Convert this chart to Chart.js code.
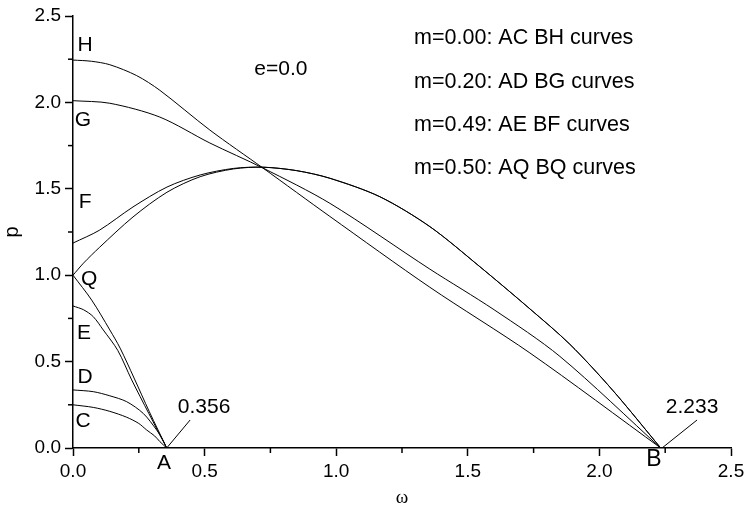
<!DOCTYPE html>
<html>
<head>
<meta charset="utf-8">
<script src="https://cdn.jsdelivr.net/npm/chart.js@4.4.1/dist/chart.umd.min.js"></script>
<style>
  html, body { margin: 0; padding: 0; background: #fff; }
  #wrap { width: 745px; height: 507px; }
</style>
</head>
<body>
<div id="wrap"><canvas id="chart"></canvas></div>
<script>
// ---- curve data (omega, p) ----
const acX = [0, 0.077, 0.14, 0.204, 0.25, 0.28, 0.31, 0.33, 0.356];
const acY = [0.25, 0.235, 0.212, 0.178, 0.142, 0.104, 0.07, 0.037, 0];

const adX = [0, 0.077, 0.14, 0.204, 0.267, 0.318, 0.34, 0.356];
const adY = [0.336, 0.326, 0.302, 0.268, 0.2, 0.104, 0.05, 0];

const aeX = [0, 0.04, 0.077, 0.115, 0.17, 0.223, 0.288, 0.356];
const aeY = [0.822, 0.8, 0.76, 0.683, 0.565, 0.394, 0.2, 0];

const aqX = [0, 0.071, 0.14, 0.179, 0.232, 0.29, 0.356];
const aqY = [1.0, 0.856, 0.683, 0.578, 0.405, 0.21, 0];

const bhX = [0, 0.07, 0.14, 0.242, 0.33, 0.52, 0.722, 0.976, 1.356, 1.736, 2.233];
const bhY = [2.245, 2.238, 2.218, 2.155, 2.07, 1.84, 1.62, 1.34, 0.93, 0.55, 0];

const bgX = [0, 0.14, 0.33, 0.52, 0.722, 0.976, 1.356, 1.6, 1.85, 2.233];
const bgY = [2.01, 1.995, 1.915, 1.765, 1.62, 1.416, 1.035, 0.8, 0.53, 0];

const bfX = [0, 0.1, 0.228, 0.357, 0.483, 0.61, 0.722, 0.85, 0.976, 1.166, 1.356, 1.546, 1.736, 1.888, 2.05, 2.233];
const bfY = [1.186, 1.26, 1.395, 1.51, 1.58, 1.618, 1.625, 1.605, 1.561, 1.454, 1.281, 1.049, 0.805, 0.6, 0.335, 0];

const bqX = [0, 0.04, 0.1, 0.228, 0.357, 0.483, 0.61, 0.722, 0.85, 0.976, 1.166, 1.356, 1.546, 1.736, 1.888, 2.05, 2.233];
const bqY = [1.0, 1.07, 1.16, 1.337, 1.48, 1.57, 1.615, 1.625, 1.605, 1.561, 1.454, 1.281, 1.049, 0.805, 0.6, 0.335, 0];

// leader lines for the 0.356 / 2.233 labels
const leadAX = [0.356, 0.445];
const leadAY = [0, 0.162];
const leadBX = [2.238, 2.371];
const leadBY = [0, 0.162];

// ticks
const majorTicks = [0, 0.5, 1.0, 1.5, 2.0, 2.5];
const minorTicks = [0.25, 0.75, 1.25, 1.75, 2.25];

const legendLines = [
  "m=0.00: AC BH curves",
  "m=0.20: AD BG curves",
  "m=0.49: AE BF curves",
  "m=0.50: AQ BQ curves"
];

function pts(xs, ys) {
  return xs.map((x, i) => ({ x: x, y: ys[i] }));
}

const curves = [
  pts(acX, acY), pts(adX, adY), pts(aeX, aeY), pts(aqX, aqY),
  pts(bhX, bhY), pts(bgX, bgY), pts(bfX, bfY), pts(bqX, bqY)
];

const datasets = curves.map(d => ({
  data: d,
  showLine: true,
  borderColor: "#000",
  borderWidth: 1,
  pointRadius: 0,
  tension: 0.3
}));
[pts(leadAX, leadAY), pts(leadBX, leadBY)].forEach(d => {
  datasets.push({ data: d, showLine: true, borderColor: "#000", borderWidth: 1, pointRadius: 0, tension: 0 });
});

const SANS = "'Liberation Sans', Arial, sans-serif";

// text labels placed in data coordinates
const letters = [
  ["H", 0.046, 2.332, 21], ["G", 0.038, 1.898, 21], ["F", 0.046, 1.424, 21],
  ["Q", 0.061, 0.978, 21], ["E", 0.042, 0.666, 21], ["D", 0.046, 0.411, 21],
  ["C", 0.038, 0.156, 21], ["A", 0.346, -0.087, 21], ["B", 2.207, -0.069, 23],
  ["0.356", 0.498, 0.237, 21], ["2.233", 2.352, 0.237, 21], ["e=0.0", 0.79, 2.19, 21]
];
const legendX = 1.296;
const legendY = [2.373, 2.118, 1.869, 1.62];

const extras = {
  id: "extras",
  afterDraw(chart) {
    const c = chart.ctx;
    const xs = chart.scales.x, ys = chart.scales.y;
    const area = chart.chartArea;
    c.save();
    c.strokeStyle = "#000";
    c.lineWidth = 1.5;
    // minor ticks
    minorTicks.forEach(v => {
      const px = xs.getPixelForValue(v);
      c.beginPath(); c.moveTo(px, area.bottom); c.lineTo(px, area.bottom + 5); c.stroke();
      const py = ys.getPixelForValue(v);
      c.beginPath(); c.moveTo(area.left - 5, py); c.lineTo(area.left, py); c.stroke();
    });
    c.fillStyle = "#000";
    c.textAlign = "center";
    c.textBaseline = "middle";
    letters.forEach(l => {
      c.font = l[3] + "px " + SANS;
      c.fillText(l[0], xs.getPixelForValue(l[1]), ys.getPixelForValue(l[2]));
    });
    c.textAlign = "left";
    c.font = "21.5px " + SANS;
    legendLines.forEach((t, i) => {
      c.fillText(t, xs.getPixelForValue(legendX), ys.getPixelForValue(legendY[i]));
    });
    c.restore();
  }
};

const axisBase = {
  type: "linear",
  min: 0,
  max: 2.5,
  border: { display: true, color: "#000", width: 1.5 },
  grid: { drawOnChartArea: false, drawTicks: true, tickLength: 8, tickColor: "#000", tickWidth: 1.5 },
  afterBuildTicks: s => { s.ticks = majorTicks.map(v => ({ value: v })); }
};

new Chart(document.getElementById("chart"), {
  type: "scatter",
  data: { datasets: datasets },
  options: {
    responsive: true,
    maintainAspectRatio: false,
    animation: false,
    layout: { padding: { top: 16, right: 14, left: 0, bottom: 0 } },
    plugins: { legend: { display: false }, tooltip: { enabled: false } },
    scales: {
      x: Object.assign({}, axisBase, {
        position: "bottom",
        ticks: { color: "#000", padding: 4, font: { family: SANS, size: 19 }, maxRotation: 0, callback: v => v.toFixed(1) },
        title: { display: true, text: "ω", color: "#000", font: { family: "'Liberation Serif', serif", size: 19, lineHeight: 0.9 }, padding: 0 },
        afterFit: s => { s.height = 59; s.paddingLeft = 0; s.paddingRight = 0; }
      }),
      y: Object.assign({}, axisBase, {
        position: "left",
        ticks: { color: "#000", padding: 4, font: { family: SANS, size: 19 }, callback: v => v.toFixed(1) },
        title: { display: true, text: "p", color: "#000", font: { family: SANS, size: 20 }, padding: { top: 0, bottom: 0 } },
        afterFit: s => { s.width = 73; s.paddingTop = 0; s.paddingBottom = 0; }
      })
    }
  },
  plugins: [extras]
});
</script>
</body>
</html>
